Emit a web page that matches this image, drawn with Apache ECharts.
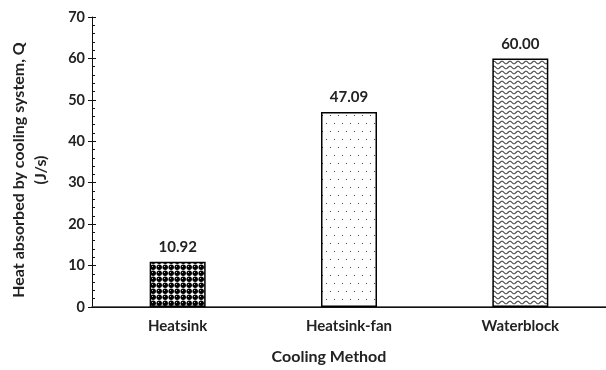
<!DOCTYPE html>
<html>
<head>
<meta charset="utf-8">
<script src="https://cdn.jsdelivr.net/npm/echarts@6/dist/echarts.min.js"></script>
<style>
  html, body { margin: 0; padding: 0; background: #fff; }
  #chart { width: 606px; height: 370px; }
</style>
</head>
<body>
<div id="chart"></div>
<script>
// Heat absorbed per cooling method
const categories = ['Heatsink', 'Heatsink-fan', 'Waterblock'];
const heatAbsorbed = [10.92, 47.09, 60.00];
const yTicks = [0, 10, 20, 30, 40, 50, 60, 70];

const FONT = 'Lato, "Open Sans", "Liberation Sans", sans-serif';

// Fill patterns drawn on small tiles
function tile(w, h, draw) {
  const c = document.createElement('canvas');
  c.width = w; c.height = h;
  const g = c.getContext('2d');
  draw(g);
  return { image: c, repeat: 'repeat' };
}

// dark "sphere" texture
const spherePattern = tile(6, 6, g => {
  g.fillStyle = '#fff';
  g.fillRect(0, 0, 6, 6);
  g.fillStyle = '#000';
  g.beginPath();
  g.arc(3.2, 3.2, 2.7, 0, Math.PI * 2);
  g.fill();
  g.fillStyle = '#bbb';
  g.fillRect(2, 2, 1, 1);
});

// sparse dots
const dotPattern = tile(16, 16, g => {
  g.fillStyle = '#fff';
  g.fillRect(0, 0, 16, 16);
  g.fillStyle = '#444';
  [[2, 3], [10, 3], [6, 11], [14, 11]].forEach(([x, y]) => g.fillRect(x, y, 1, 1));
});

// wavy lines
const wavePattern = tile(8, 5, g => {
  g.fillStyle = '#fff';
  g.fillRect(0, 0, 8, 5);
  g.strokeStyle = '#444';
  g.lineWidth = 1.1;
  g.beginPath();
  for (let x = 0; x <= 8; x += 0.5) {
    const y = 2.5 + 1.3 * Math.sin((x / 8) * Math.PI * 2);
    if (x === 0) g.moveTo(x, y); else g.lineTo(x, y);
  }
  g.stroke();
});

const patterns = [spherePattern, dotPattern, wavePattern];

const chart = echarts.init(document.getElementById('chart'));

const yBase = {
  type: 'value',
  min: yTicks[0],
  max: yTicks[yTicks.length - 1],
  interval: yTicks[1] - yTicks[0],
  splitLine: { show: false }
};

chart.setOption({
  animation: false,
  grid: { left: 88, top: 17, width: 530, height: 291 },
  xAxis: [
    {
      type: 'category',
      data: categories,
      position: 'bottom',
      axisLine: { lineStyle: { color: '#333', width: 1.5 } },
      axisTick: { show: false },
      axisLabel: { color: '#222', fontFamily: FONT, fontWeight: 'bold', fontSize: 15, margin: 12 },
      name: 'Cooling Method',
      nameLocation: 'middle',
      nameGap: 42,
      nameTextStyle: {
        color: '#222', fontFamily: FONT, fontWeight: 'bold', fontSize: 16,
        padding: [0, 40, 0, 0]
      }
    },
    {
      type: 'category',
      data: categories,
      position: 'top',
      axisLine: { show: true, lineStyle: { color: '#111', width: 1.2 } },
      axisTick: { show: false },
      axisLabel: { show: false }
    }
  ],
  yAxis: [
    Object.assign({}, yBase, {
      position: 'left',
      axisLine: { show: true, lineStyle: { color: '#111', width: 1 } },
      axisTick: { show: true, inside: false, length: 4, lineStyle: { color: '#111' } },
      axisLabel: { color: '#222', fontFamily: FONT, fontWeight: 'bold', fontSize: 14.5, margin: 7 },
      name: 'Heat absorbed by cooling system, Q\n(J/s)',
      nameLocation: 'middle',
      nameGap: 40,
      nameTextStyle: {
        color: '#222', fontFamily: FONT, fontWeight: 'bold', fontSize: 16, lineHeight: 22,
        padding: [0, 16, 0, 0]
      }
    }),
    Object.assign({}, yBase, {
      position: 'left',
      axisLine: { show: false },
      axisTick: { show: true, inside: true, length: 4, lineStyle: { color: '#111' } },
      minorTick: { show: true, splitNumber: 5, length: 3, lineStyle: { color: '#111' } },
      axisLabel: { show: false }
    })
  ],
  series: [
    {
      type: 'bar',
      xAxisIndex: 0,
      yAxisIndex: 0,
      barWidth: 56,
      data: heatAbsorbed.map((v, i) => ({
        value: v,
        itemStyle: { color: patterns[i], borderColor: '#000', borderWidth: 1.5 }
      })),
      label: {
        show: true,
        position: 'top',
        distance: 7,
        formatter: p => p.value.toFixed(2),
        color: '#222',
        fontFamily: FONT,
        fontWeight: 'bold',
        fontSize: 15
      }
    }
  ]
});
</script>
</body>
</html>
